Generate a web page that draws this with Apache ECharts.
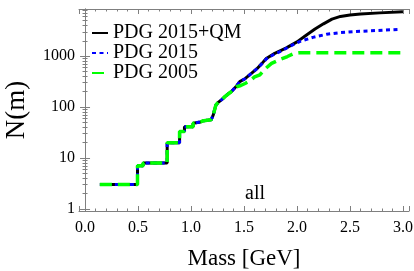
<!DOCTYPE html>
<html>
<head>
<meta charset="utf-8">
<script src="https://cdn.jsdelivr.net/npm/echarts@6/dist/echarts.min.js"></script>
<style>html,body{margin:0;padding:0;background:#fff;}#c{width:414px;height:271px;}</style>
</head>
<body>
<div id="c"></div>
<script>
// [mass GeV, N(m)] — shared low-mass steps (identical for all three lists)
const commonSteps = [
  [0.14,3],[0.495,3],[0.495,7],[0.548,7],[0.548,8],[0.775,8],[0.775,20],
  [0.892,20],[0.892,33],[0.938,33],[0.938,41],[1.02,41],[1.02,48],
  [1.09,51],[1.12,54],[1.19,56],[1.21,70],[1.235,110],[1.26,125],
  [1.29,140],[1.32,160],[1.35,180],[1.38,200]
];
const qmTail = [
  [1.43,260],[1.46,315],[1.51,360],[1.57,457],[1.62,560],[1.67,720],[1.71,900],
  [1.79,1130],[1.9,1450],[2.0,1900],[2.09,2600],[2.17,3400],[2.25,4300],
  [2.33,5300],[2.41,6000],[2.5,6400],[2.6,6700],[2.78,7050],[3.0,7400]
];
const pdg2015Tail = [
  [1.43,260],[1.46,315],[1.51,360],[1.57,457],[1.62,560],[1.67,710],[1.71,880],
  [1.79,1100],[1.85,1250],[1.93,1550],[2.03,1950],[2.15,2330],[2.28,2680],
  [2.41,2890],[2.56,3030],[2.75,3180],[2.95,3330]
];
const pdg2005Tail = [
  [1.43,250],[1.47,265],[1.51,290],[1.56,330],[1.6,390],[1.65,430],[1.7,560],
  [1.76,720],[1.85,880],[1.91,980],[1.97,1120],[2.02,1160],[3.0,1160]
];
const seriesNames = ['PDG 2015+QM', 'PDG 2015', 'PDG 2005'];
const xTickLabels = ['0.0','0.5','1.0','1.5','2.0','2.5','3.0'];
const yTickLabels = ['1','10','100','1000'];

const serif = "'Liberation Serif','Times New Roman',serif";
const frameColor = '#7f7f7f';
const chart = echarts.init(document.getElementById('c'), null, {renderer:'canvas'});

function xAx(pos, showLabel) {
  return {
    type:'value', position:pos, min:-0.057, max:3.057, splitNumber:5,
    axisLine:{show:true, lineStyle:{color:frameColor, width:1}},
    axisTick:{show:true, inside:true, length:5, lineStyle:{color:frameColor}},
    minorTick:{show:true, splitNumber:5, length:2.5, lineStyle:{color:frameColor}},
    splitLine:{show:false},
    axisLabel:{show:showLabel, showMinLabel:false, showMaxLabel:false, margin:9,
      fontFamily:serif, fontSize:16, color:'#000',
      formatter:function(v){ const s=(Math.round(v*10)/10).toFixed(1); return xTickLabels.indexOf(s)>=0?s:''; }},
    name: showLabel ? 'Mass [GeV]' : '', nameLocation:'middle', nameGap:36,
    nameTextStyle:{fontFamily:serif, fontSize:23, color:'#000'}
  };
}
function yAx(pos, showLabel) {
  return {
    type:'log', logBase:10, position:pos, min:0.91, max:8400,
    axisLine:{show:true, lineStyle:{color:frameColor, width:1}},
    axisTick:{show:true, inside:true, length:5, lineStyle:{color:frameColor}},
    minorTick:{show:true, splitNumber:9, length:2.5, lineStyle:{color:frameColor}},
    splitLine:{show:false},
    axisLabel:{show:showLabel, showMinLabel:false, showMaxLabel:false, margin:4,
      fontFamily:serif, fontSize:16, color:'#000',
      formatter:function(v){ const s=String(Math.round(v)); return (yTickLabels.indexOf(s)>=0 && Math.abs(v-Math.round(v))<1e-6)?s:''; }},
    name: showLabel ? 'N(m)' : '', nameLocation:'middle', nameGap:49, nameRotate:90,
    nameTextStyle:{fontFamily:serif, fontSize:27, color:'#000'}
  };
}

const option = {
  animation:false,
  backgroundColor:'#fff',
  grid:{left:79, top:9, right:5, bottom:60, containLabel:false, outerBoundsMode:'none'},
  xAxis:[xAx('bottom', true), xAx('top', false)],
  yAxis:[yAx('left', true), yAx('right', false)],
  legend:{
    show:true, orient:'vertical', left:86, top:18, itemWidth:16, itemHeight:10, itemGap:0,
    itemStyle:{opacity:0},
    textStyle:{fontFamily:serif, fontSize:20, color:'#000', lineHeight:19},
    data:seriesNames
  },
  series:[
    {name:seriesNames[0], type:'line', data:commonSteps.concat(qmTail), showSymbol:false, symbol:'none',
     lineStyle:{color:'#000', width:3, type:'solid'}, itemStyle:{color:'#000'}, z:2},
    {name:seriesNames[1], type:'line', data:commonSteps.concat(pdg2015Tail), showSymbol:false, symbol:'none',
     lineStyle:{color:'#0000ff', width:3, type:[4,3.5]}, itemStyle:{color:'#0000ff'}, z:3},
    {name:seriesNames[2], type:'line', data:commonSteps.concat(pdg2005Tail), showSymbol:false, symbol:'none',
     lineStyle:{color:'#00ff00', width:3.5, type:[12,6]}, itemStyle:{color:'#00ff00'}, z:4}
  ],
  graphic:[{id:'allLabel', type:'text', left:245, top:184, style:{text:'all', font:'20px '+serif, fill:'#000'}}]
};
chart.setOption(option);
</script>
</body>
</html>
